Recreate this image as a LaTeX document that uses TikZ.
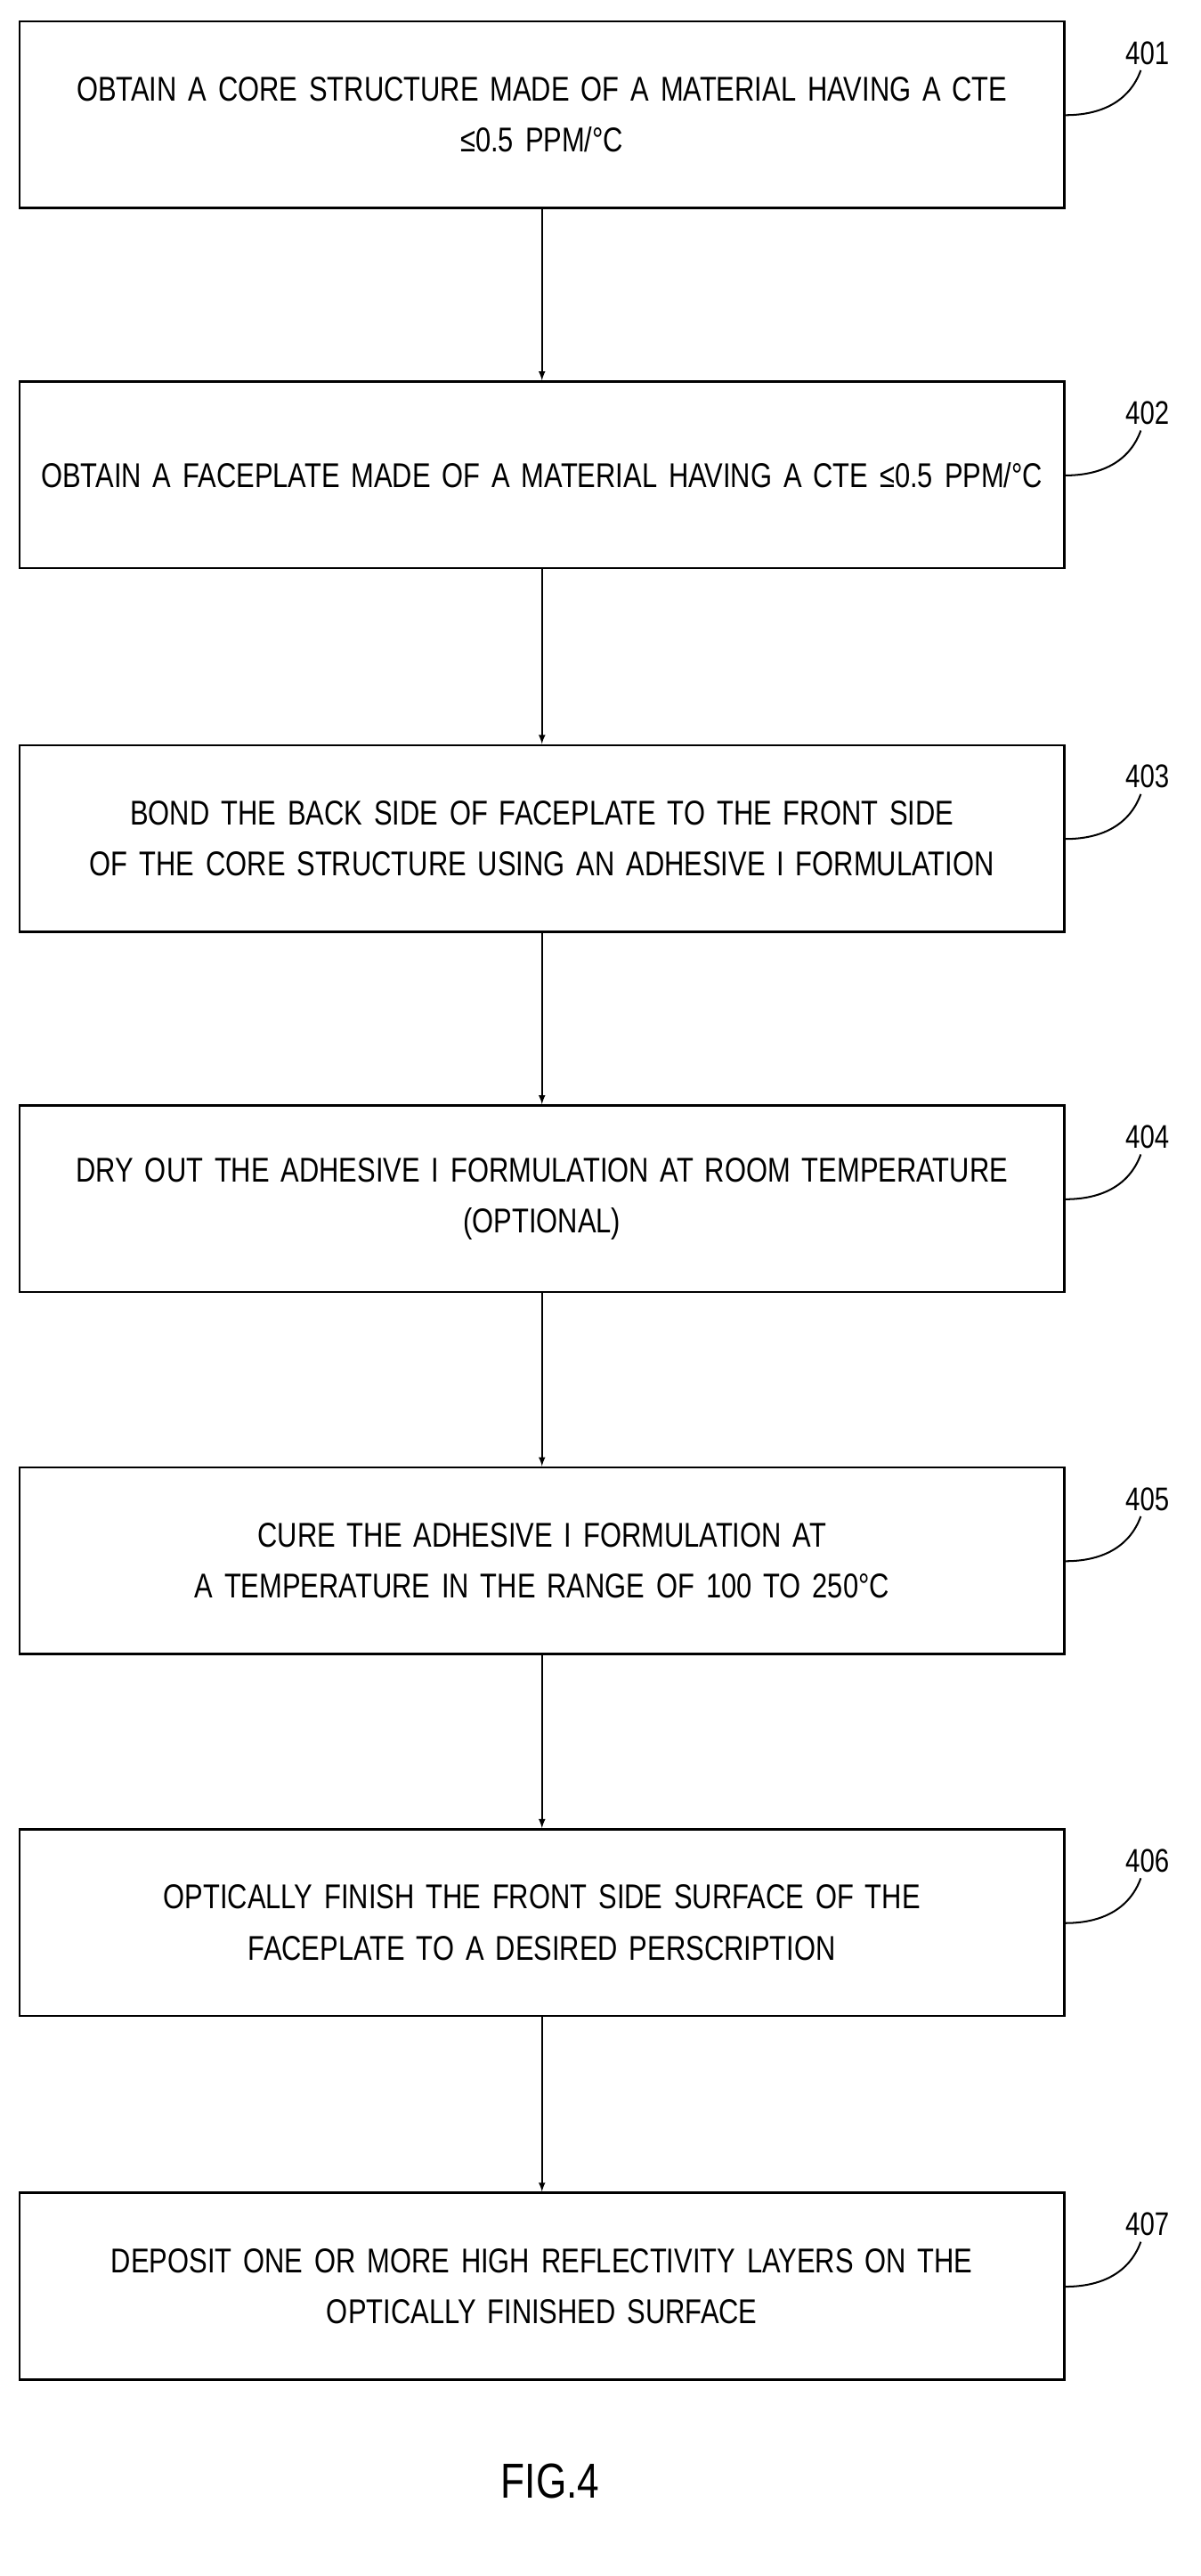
\documentclass[tikz,border=0pt]{standalone}
\usepackage{fontspec}
\setmainfont[FakeStretch=0.8]{Liberation Sans}
\usetikzlibrary{positioning}
\tikzset{
  stepbox/.style={draw, line width=1.4pt, minimum width=638pt, minimum height=114pt,
    text width=630pt, align=center, font=\fontsize{21}{31}\selectfont},
  flow/.style={-latex, line width=0.9pt},
  refnum/.style={font=\fontsize{20}{22}\selectfont},
  lead/.style={line width=1.1pt}
}
\begin{document}
\begin{tikzpicture}[x=1pt, y=-1pt]
\useasboundingbox (0,0) rectangle (733,1573);

% Etapes
\node[stepbox] (s1) at (331,70) {OBTAIN A CORE STRUCTURE MADE OF A MATERIAL HAVING A CTE\\≤0.5 PPM/°C};
\node[stepbox] (s2) at (331,290) {OBTAIN A FACEPLATE MADE OF A MATERIAL HAVING A CTE ≤0.5 PPM/°C};
\node[stepbox] (s3) at (331,512) {BOND THE BACK SIDE OF FACEPLATE TO THE FRONT SIDE\\OF THE CORE STRUCTURE USING AN ADHESIVE I FORMULATION};
\node[stepbox] (s4) at (331,732) {DRY OUT THE ADHESIVE I FORMULATION AT ROOM TEMPERATURE\\(OPTIONAL)};
\node[stepbox] (s5) at (331,953) {CURE THE ADHESIVE I FORMULATION AT\\A TEMPERATURE IN THE RANGE OF 100 TO 250°C};
\node[stepbox] (s6) at (331,1174) {OPTICALLY FINISH THE FRONT SIDE SURFACE OF THE\\FACEPLATE TO A DESIRED PERSCRIPTION};
\node[stepbox] (s7) at (331,1396) {DEPOSIT ONE OR MORE HIGH REFLECTIVITY LAYERS ON THE\\OPTICALLY FINISHED SURFACE};

% Fleches
\foreach \a/\b in {s1/s2, s2/s3, s3/s4, s4/s5, s5/s6, s6/s7}
  \draw[flow] (\a) -- (\b);

% Numeros
\foreach \s/\n in {s1/401, s2/402, s3/403, s4/404, s5/405, s6/406, s7/407} {
  \node[refnum] (n\n) at ([shift={(50pt,-20pt)}]\s.north east) {\n};
  \draw[lead] ([yshift=-58pt]\s.north east) to[out=0, in=250] ([xshift=-4pt]n\n.south);
}

% Titre
\node[font=\fontsize{30}{34}\selectfont] (fig) at (336,1515) {FIG.4};

\end{tikzpicture}
\end{document}
